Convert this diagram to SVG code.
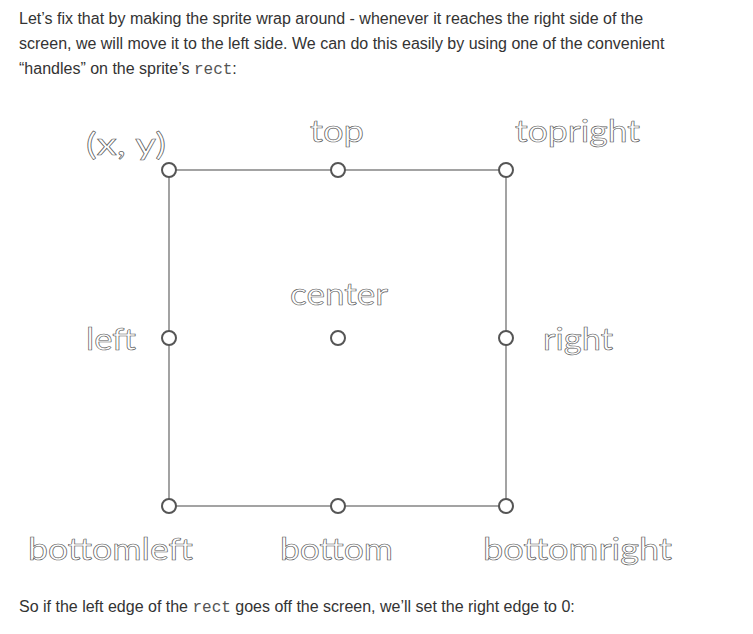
<svg xmlns="http://www.w3.org/2000/svg" width="753" height="634" viewBox="0 0 753 634">
<style>
.body{font-family:"Liberation Sans",Arial,sans-serif;font-size:16px;fill:#333}
.mono{font-family:"Liberation Mono","Courier New",monospace;font-size:16px;fill:#555}
.lbl{font-family:"Lato","Noto Sans",sans-serif;font-size:30px;fill:#fff;stroke:#555;stroke-width:0.6}
.edge{stroke:#999;stroke-width:1.8;fill:none}
.h{fill:#fff;stroke:#555;stroke-width:2}
</style>
<rect width="753" height="634" fill="#fff"/>
<text class="body" x="19" y="24">Let’s fix that by making the sprite wrap around - whenever it reaches the right side of the</text>
<text class="body" x="19" y="49">screen, we will move it to the left side. We can do this easily by using one of the convenient</text>
<text class="body" x="19" y="74">“handles” on the sprite’s <tspan class="mono">rect</tspan>:</text>
<text class="body" x="19" y="612">So if the left edge of the <tspan class="mono">rect</tspan> goes off the screen, we’ll set the right edge to 0:</text>
<g id="connectors">
<rect class="edge" x="169" y="170" width="337" height="336"/>
</g>
<g id="xy"><circle class="h" cx="169" cy="170" r="7"/><text class="lbl" x="86" y="155" textLength="80" lengthAdjust="spacingAndGlyphs">(x, y)</text></g>
<g id="top"><circle class="h" cx="338" cy="170" r="7"/><text class="lbl" x="310" y="142" textLength="54" lengthAdjust="spacingAndGlyphs">top</text></g>
<g id="topright"><circle class="h" cx="506" cy="170" r="7"/><text class="lbl" x="515" y="142" textLength="125" lengthAdjust="spacingAndGlyphs">topright</text></g>
<g id="left"><circle class="h" cx="169" cy="338" r="7"/><text class="lbl" x="86" y="350" textLength="50" lengthAdjust="spacingAndGlyphs">left</text></g>
<g id="center"><circle class="h" cx="338" cy="338" r="7"/><text class="lbl" x="290" y="305" textLength="98" lengthAdjust="spacingAndGlyphs">center</text></g>
<g id="right"><circle class="h" cx="506" cy="338" r="7"/><text class="lbl" x="543" y="350" textLength="70" lengthAdjust="spacingAndGlyphs">right</text></g>
<g id="bottomleft"><circle class="h" cx="169" cy="506" r="7"/><text class="lbl" x="28" y="560" textLength="165" lengthAdjust="spacingAndGlyphs">bottomleft</text></g>
<g id="bottom"><circle class="h" cx="338" cy="506" r="7"/><text class="lbl" x="280" y="560" textLength="113" lengthAdjust="spacingAndGlyphs">bottom</text></g>
<g id="bottomright"><circle class="h" cx="506" cy="506" r="7"/><text class="lbl" x="483" y="560" textLength="189" lengthAdjust="spacingAndGlyphs">bottomright</text></g>
</svg>
